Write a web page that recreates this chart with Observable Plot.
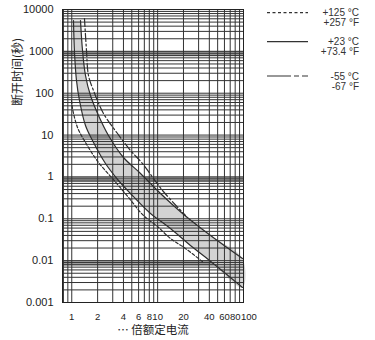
<!DOCTYPE html>
<html><head><meta charset="utf-8">
<script src="https://cdn.jsdelivr.net/npm/d3@7"></script>
<script src="https://cdn.jsdelivr.net/npm/@observablehq/plot@0.6"></script>
<style>
body{margin:0;background:#fff;}
#wrap{position:relative;width:375px;height:340px;}
#wrap svg{display:block;}
#legend{position:absolute;left:0;top:0;}
</style></head><body><div id="wrap"></div>
<script>
// ---- data ----
const xTicks = [1, 2, 4, 6, 8, 10, 20, 40, 60, 80, 100];
const yTicks = [0.001, 0.01, 0.1, 1, 10, 100, 1000, 10000];
const yTickLabels = ["0.001", "0.01", "0.1", "1", "10", "100", "1000", "10000"];
const xGrid = [0.8, 0.9, 1, 2, 3, 4, 5, 6, 7, 8, 9, 10, 20, 30, 40, 50, 60, 70, 80, 90, 100];
const yDecades = [0.001, 0.01, 0.1, 1, 10, 100, 1000];
const minorSteps = [1, 2, 3, 4, 5, 6, 7, 8, 9];
const bandDecades = [0.01, 1, 1000];

// +23 °C band boundaries
const upper23X = [1.264, 1.334, 1.445, 1.652, 2.048, 2.677, 4.004, 6.32, 10.8, 19.5, 41.3, 97.3];
const upper23Y = [5460, 1048, 265, 88.2, 29.4, 9.77, 2.91, 1.21, 0.402, 0.134, 0.0399, 0.01125];
const lower23X = [1.047, 1.076, 1.135, 1.23, 1.445, 1.743, 2.47, 3.50, 4.83, 8.26, 14.1, 24.1, 40.2, 97.3];
const lower23Y = [5460, 939, 201, 67, 16.9, 7.42, 2.09, 0.822, 0.402, 0.134, 0.0586, 0.023, 0.0101, 0.00229];
// -55 °C (dash-dot)
const m55X = [1.406, 1.484, 1.566, 1.79, 2.34, 3.41, 4.83, 6.66, 11.4, 21.1];
const m55Y = [6095, 1048, 265, 116, 32.8, 10.9, 4.29, 2.09, 0.474, 0.12];
// +125 °C (dashed)
const p125X = [0.993, 1.02, 1.166, 1.445, 2.048, 2.98, 4.58, 6.84, 9.96, 14.1, 21.1, 34.2];
const p125Y = [67, 43.2, 15.2, 6.65, 2.21, 0.918, 0.323, 0.12, 0.0655, 0.0338, 0.0195, 0.00904];

const legendC = ["+125 °C", "+23 °C", "-55 °C"];
const legendF = ["+257 °F", "+73.4 °F", "-67 °F"];

// ---- build tables ----
const pts = (xs, ys) => xs.map((x, i) => ({x, y: ys[i]}));
const upper = pts(upper23X, upper23Y);
const lower = pts(lower23X, lower23Y);
const bandRing = upper.concat(lower.slice().reverse());
const m55 = pts(m55X, m55Y);
const p125 = pts(p125X, p125Y);
const yGrid = yDecades.flatMap(d => minorSteps.map(s => +(d * s).toPrecision(6))).concat([10000]);
const yLab = new Map(yTicks.map((t, i) => [t, yTickLabels[i]]));
const xTicksMain = xTicks.slice(0, -1);
const xTickLast = xTicks.slice(-1);

const lineColor = "#2e2e2e";
const chart = Plot.plot({
  width: 375, height: 340,
  marginLeft: 62, marginRight: 132, marginTop: 9, marginBottom: 38,
  style: {fontFamily: "'Liberation Sans', Arial, sans-serif", fontSize: "11px", color: "#222", background: "#fff"},
  x: {type: "log", domain: [0.78, 100], axis: null},
  y: {type: "log", domain: [0.001, 10000], axis: null},
  marks: [
    Plot.rect(bandDecades, {y1: d => d * 0.74, y2: d => d, fill: "#a2a2a2"}),
    Plot.line(bandRing, {x: "x", y: "y", fill: "#d3d3d3", stroke: null, curve: "catmull-rom"}),
    Plot.ruleX(xGrid, {stroke: "#333", strokeWidth: 1}),
    Plot.ruleY(yGrid, {stroke: "#333", strokeWidth: 1}),
    Plot.frame({stroke: "#222"}),
    Plot.line(upper, {x: "x", y: "y", stroke: lineColor, strokeWidth: 1.2, curve: "catmull-rom"}),
    Plot.line(lower, {x: "x", y: "y", stroke: lineColor, strokeWidth: 1.2, curve: "catmull-rom"}),
    Plot.line(m55, {x: "x", y: "y", stroke: lineColor, strokeWidth: 1.2, strokeDasharray: "8,2.5,2,2.5", curve: "catmull-rom"}),
    Plot.line(p125, {x: "x", y: "y", stroke: lineColor, strokeWidth: 1.2, strokeDasharray: "3,2", curve: "catmull-rom"}),
    Plot.text(xTicksMain, {x: d => d, text: d => String(d), frameAnchor: "bottom", dy: 14, lineAnchor: "middle", fontSize: 9.5, fill: "#222"}),
    Plot.text(xTickLast, {x: d => d, text: d => String(d), frameAnchor: "bottom", dy: 14, dx: -2.5, textAnchor: "start", lineAnchor: "middle", fontSize: 9.5, fill: "#222"}),
    Plot.text(yTicks, {y: d => d, text: d => yLab.get(d), frameAnchor: "left", dx: -9, textAnchor: "end", lineAnchor: "middle", fontSize: 11, fill: "#222"}),
    Plot.text(["… 倍额定电流"], {frameAnchor: "bottom", dy: 28, fontFamily: "'Noto Sans CJK SC', sans-serif", fontSize: 11.5, lineAnchor: "middle", fill: "#222"}),
    Plot.text(["断开时间(秒)"], {frameAnchor: "left", dx: -44, dy: -50, rotate: -90, fontFamily: "'Noto Sans CJK SC', sans-serif", fontSize: 12, lineAnchor: "middle", fill: "#222"})
  ]
});
const wrap = document.getElementById("wrap");
wrap.appendChild(chart);

// ---- legend ----
const legY = [12.7, 41.7, 76];
const legDash = ["3,2.5", null, "24,3,5,3,6"];
const leg = d3.create("svg").attr("id", "legend").attr("width", 375).attr("height", 100)
  .style("font-family", "'Liberation Sans', Arial, sans-serif").style("font-size", "10px");
legendC.forEach((c, i) => {
  const y = legY[i];
  const ln = leg.append("line").attr("x1", 267).attr("x2", 308).attr("y1", y).attr("y2", y)
    .attr("stroke", "#333").attr("stroke-width", 1.2);
  if (legDash[i]) ln.attr("stroke-dasharray", legDash[i]);
  leg.append("text").attr("x", 359).attr("y", y).attr("text-anchor", "end").attr("dy", "0.35em").attr("fill", "#333").text(c);
  leg.append("text").attr("x", 359).attr("y", y + 10.2).attr("text-anchor", "end").attr("dy", "0.35em").attr("fill", "#333").text(legendF[i]);
});
wrap.appendChild(leg.node());
</script></body></html>
